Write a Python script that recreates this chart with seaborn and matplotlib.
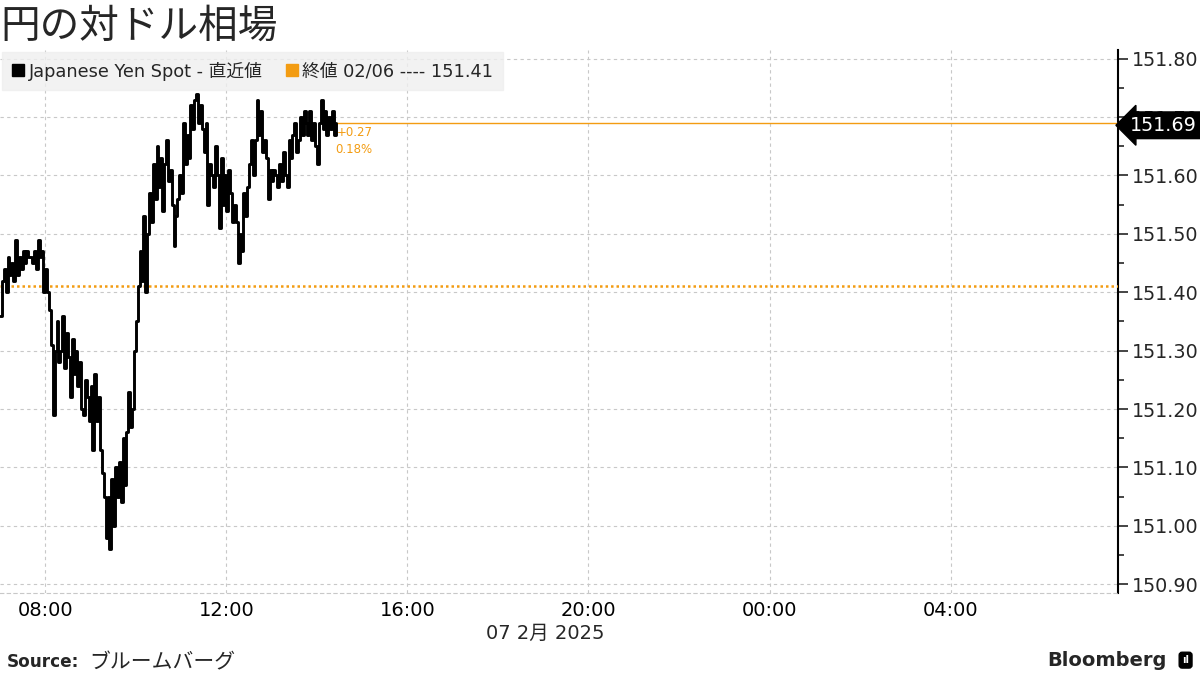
import pandas as pd
import matplotlib
matplotlib.use("Agg")
import matplotlib.pyplot as plt
import matplotlib.dates as mdates
import matplotlib.transforms as mtransforms
from matplotlib.lines import Line2D
from matplotlib.ticker import MultipleLocator
import seaborn as sns

# --- data (2.5-minute steps from 07:00, 7 Feb 2025) ---
start_time = "2025-02-07 07:00"
yen_spot = [
    151.36, 151.42, 151.44, 151.40, 151.46, 151.43, 151.45, 151.42, 151.49, 151.43,
    151.46, 151.44, 151.47, 151.45, 151.47, 151.46, 151.46, 151.45, 151.47, 151.44,
    151.49, 151.46, 151.47, 151.40, 151.44, 151.40, 151.37, 151.31, 151.19, 151.30,
    151.35, 151.28, 151.30, 151.36, 151.27, 151.33, 151.29, 151.22, 151.32, 151.26,
    151.30, 151.24, 151.28, 151.20, 151.19, 151.25, 151.22, 151.18, 151.24, 151.13,
    151.26, 151.18, 151.22, 151.13, 151.09, 151.05, 150.98, 151.05, 150.96, 151.08,
    151.00, 151.10, 151.05, 151.11, 151.04, 151.15, 151.07, 151.16, 151.23, 151.17,
    151.20, 151.30, 151.35, 151.41, 151.47, 151.42, 151.53, 151.40, 151.50, 151.57,
    151.52, 151.62, 151.56, 151.65, 151.58, 151.63, 151.54, 151.62, 151.66, 151.59,
    151.61, 151.55, 151.48, 151.53, 151.56, 151.60, 151.57, 151.69, 151.62, 151.67,
    151.63, 151.72, 151.68, 151.73, 151.74, 151.69, 151.72, 151.68, 151.64, 151.69,
    151.55, 151.62, 151.60, 151.58, 151.65, 151.60, 151.51, 151.63, 151.55, 151.60,
    151.54, 151.61, 151.57, 151.52, 151.55, 151.52, 151.45, 151.50, 151.47, 151.57,
    151.53, 151.58, 151.62, 151.66, 151.60, 151.66, 151.73, 151.67, 151.71, 151.64,
    151.66, 151.63, 151.56, 151.61, 151.59, 151.61, 151.60, 151.58, 151.62, 151.59,
    151.64, 151.60, 151.58, 151.66, 151.63, 151.67, 151.69, 151.64, 151.66, 151.70,
    151.67, 151.71, 151.69, 151.67, 151.71, 151.66, 151.69, 151.65, 151.62, 151.69,
    151.73, 151.68, 151.71, 151.67, 151.70, 151.68, 151.71, 151.67, 151.69,
]
prev_close = 151.41
last_price = 151.69
change_abs = "+0.27"
change_pct = "0.18%"
x_start = "2025-02-07 07:00"
x_end = "2025-02-08 07:42"
y_min, y_max = 150.885, 151.815
y_ticks = [150.90, 151.00, 151.10, 151.20, 151.30, 151.40, 151.50, 151.60, 151.70, 151.80]

ORANGE = "#f39c12"
GRID = "#c8c8c8"

times = pd.date_range(start_time, periods=len(yen_spot), freq="150s")
df = pd.DataFrame({"time": times, "price": yen_spot})

sns.set_style("white")
plt.rcParams["font.family"] = ["DejaVu Sans", "Noto Sans CJK JP"]

fig = plt.figure(figsize=(12, 6.75), dpi=100)
ax = fig.add_axes([0.0, 0.1215, 0.9317, 0.8045])

sns.lineplot(data=df, x="time", y="price", ax=ax, color="black",
             linewidth=2.1, drawstyle="steps-post", zorder=5)

# previous close (dotted) and last price (thin solid)
ax.axhline(prev_close, color=ORANGE, linestyle=(0, (1, 1.2)), linewidth=1.8, zorder=3)
ax.hlines(last_price, times[-1], pd.Timestamp(x_end), color=ORANGE, linewidth=1.0, zorder=3)
ax.annotate(change_abs, (times[-1], last_price), xytext=(1, -2), textcoords="offset points",
            color=ORANGE, fontsize=8.5, va="top", ha="left")
ax.annotate(change_pct, (times[-1], last_price), xytext=(0, -14.5), textcoords="offset points",
            color=ORANGE, fontsize=8.5, va="top", ha="left")

ax.set_xlim(pd.Timestamp(x_start), pd.Timestamp(x_end))
ax.set_ylim(y_min, y_max)

# x axis
ax.xaxis.set_major_locator(mdates.HourLocator(byhour=[0, 4, 8, 12, 16, 20]))
ax.xaxis.set_major_formatter(mdates.DateFormatter("%H:%M"))
ax.tick_params(axis="x", length=0, labelsize=14, pad=6, colors="black")
ax.set_xlabel("")

# y axis on the right
ax.yaxis.tick_right()
ax.set_yticks(y_ticks)
ax.set_yticklabels([f"{v:.2f}" for v in y_ticks])
ax.yaxis.set_minor_locator(MultipleLocator(0.05))
ax.tick_params(axis="y", which="major", length=7, width=1.2, labelsize=13.8, pad=3,
               direction="out", right=True, left=False)
ax.tick_params(axis="y", which="minor", length=4, width=1.2, direction="out",
               right=True, left=False)
ax.set_ylabel("")

ax.grid(True, which="major", color=GRID, linestyle=(0, (3, 3)), linewidth=0.8)
for side in ["top", "left"]:
    ax.spines[side].set_visible(False)
ax.spines["right"].set_color("black")
ax.spines["right"].set_linewidth(1.5)
ax.spines["bottom"].set_color(GRID)
ax.spines["bottom"].set_linestyle((0, (3, 3)))
ax.spines["bottom"].set_linewidth(0.8)

# last-price tag on the axis (covers the 151.70 label, as in the original)
trans = mtransforms.blended_transform_factory(ax.transAxes, ax.transData)
ax.text(1.011, last_price - 0.004, f"{last_price:.2f}", transform=trans, ha="left", va="center",
        color="white", fontsize=13.8, zorder=20, clip_on=False,
        bbox=dict(boxstyle="larrow,pad=0.2", fc="black", ec="black"))

# legend
handles = [Line2D([], [], marker="s", color="black", linestyle="none", markersize=9),
           Line2D([], [], marker="s", color=ORANGE, linestyle="none", markersize=9)]
labels = ["Japanese Yen Spot - 直近値", f"終値 02/06 ---- {prev_close:.2f}"]
leg = ax.legend(handles, labels, loc="upper left", bbox_to_anchor=(0.0, 1.0), ncol=2,
                fontsize=12.8, frameon=True, fancybox=False, handlelength=0.7,
                handletextpad=0.25, columnspacing=1.3, borderpad=0.55, borderaxespad=0.1)
leg.get_frame().set_facecolor("#efefef")
leg.get_frame().set_edgecolor("#efefef")
leg.set_zorder(30)

# texts around the chart
fig.text(0.0, 0.99, "円の対ドル相場", fontsize=28.5, va="top", ha="left",
         family=["Noto Sans CJK JP"])
fig.text(0.454, 0.061, "07 2月 2025", fontsize=14, ha="center", va="center")
fig.text(0.006, 0.019, "Source:", fontsize=12.2, fontweight="bold", ha="left", va="center")
fig.text(0.074, 0.019, "ブルームバーグ", fontsize=15, ha="left", va="center",
         family=["Noto Sans CJK JP"])
fig.text(0.972, 0.022, "Bloomberg", fontsize=14, fontweight="bold", ha="right", va="center")
fig.text(0.988, 0.022, "ıl", fontsize=7, fontweight="bold", ha="center", va="center", color="white",
         bbox=dict(boxstyle="round,pad=0.3", fc="black", ec="black"))

fig.savefig("out.png", dpi=100)
